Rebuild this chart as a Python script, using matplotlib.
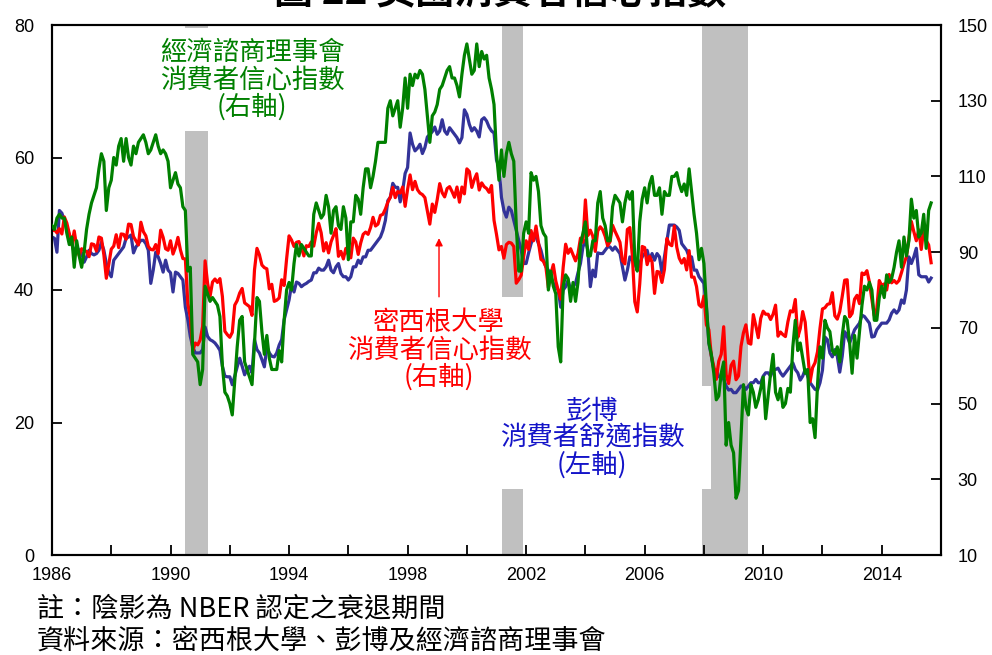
import numpy as np
import matplotlib
matplotlib.use("Agg")
import matplotlib.pyplot as plt
from matplotlib.ticker import FixedLocator, MultipleLocator
from matplotlib.patches import Rectangle

# ---------------- data (monthly, starting Jan 1986) ----------------
START_YEAR = 1986

# Conference Board consumer confidence (right axis)
cb_values = (
    [97, 96, 99, 100, 99, 99, 95, 92, 94, 86, 93, 89] +            # 1986
    [86, 90, 96, 100, 103, 105, 107, 112, 116, 114, 101, 107] +    # 1987
    [109, 115, 113, 118, 120, 114, 120, 115, 113, 118, 116, 119] + # 1988
    [120, 121, 119, 116, 117, 119, 121, 118, 116, 117, 116, 114] + # 1989
    [107, 109, 111, 108, 107, 102, 101, 85, 86, 63, 62, 61] +      # 1990
    [55, 59, 81, 79, 77, 78, 77, 76, 73, 60, 53, 52] +             # 1991
    [50, 47, 56, 65, 72, 73, 61, 59, 57, 55, 66, 78] +             # 1992
    [77, 69, 63, 68, 62, 59, 59, 59, 64, 61, 72, 80] +             # 1993
    [82, 80, 87, 92, 89, 92, 91, 90, 89, 89, 100, 103] +           # 1994
    [101, 99, 100, 105, 102, 95, 101, 102, 97, 96, 102, 99] +      # 1995
    [88, 98, 98, 105, 104, 100, 107, 112, 112, 107, 110, 114] +    # 1996
    [119, 119, 119, 119, 128, 130, 126, 128, 130, 123, 128, 136] + # 1997
    [128, 137, 134, 137, 136, 138, 137, 133, 126, 119, 126, 127] + # 1998
    [129, 133, 134, 136, 138, 139, 136, 136, 134, 131, 137, 142] + # 1999
    [145, 141, 137, 138, 145, 139, 143, 141, 142, 136, 133, 129] + # 2000
    [116, 109, 117, 110, 116, 119, 116, 114, 97, 85, 85, 95] +     # 2001
    [98, 95, 111, 109, 110, 106, 97, 95, 94, 80, 85, 81] +         # 2002
    [79, 65, 61, 81, 84, 83, 77, 82, 77, 82, 92, 95] +             # 2003
    [98, 89, 89, 93, 93, 103, 106, 99, 97, 93, 93, 102] +          # 2004
    [105, 104, 103, 98, 103, 106, 104, 106, 88, 85, 98, 104] +     # 2005
    [107, 103, 108, 110, 105, 105, 107, 100, 106, 105, 105, 110] + # 2006
    [110, 111, 108, 106, 108, 105, 112, 106, 100, 95, 88, 91] +    # 2007
    [87, 76, 66, 63, 58, 51, 52, 58, 61, 39, 45, 39] +             # 2008
    [37, 25, 27, 41, 55, 49, 47, 55, 53, 49, 51, 54] +             # 2009
    [57, 46, 52, 58, 63, 53, 51, 54, 49, 50, 54, 53] +             # 2010
    [65, 72, 64, 66, 62, 58, 59, 45, 46, 41, 55, 65] +             # 2011
    [62, 72, 70, 69, 64, 63, 65, 61, 68, 73, 72, 66] +             # 2012
    [58, 68, 62, 69, 76, 81, 80, 82, 80, 72, 72, 78] +             # 2013
    [81, 78, 84, 82, 83, 86, 90, 93, 86, 94, 89, 93] +             # 2014
    [104, 99, 101, 94, 95, 100, 91, 101, 103]                      # 2015
)

# University of Michigan consumer sentiment (right axis)
umich_values = (
    [95.6, 95.9, 95.1, 96.2, 94.8, 99.3, 97.7, 94.9, 91.9, 95.6, 91.4, 89.1] +
    [90.9, 90.4, 90.2, 88.8, 92.2, 92.0, 90.3, 94.0, 93.7, 89.3, 83.1, 86.8] +
    [90.8, 91.6, 94.6, 91.2, 94.8, 94.7, 93.4, 97.4, 97.3, 94.1, 93.0, 91.9] +
    [97.9, 95.4, 94.3, 91.5, 90.7, 90.6, 92.0, 89.6, 95.8, 93.9, 90.9, 90.5] +
    [93.0, 89.5, 91.3, 93.9, 90.6, 88.3, 88.2, 76.4, 72.8, 63.9, 66.0, 65.5] +
    [66.8, 70.4, 87.7, 81.8, 78.3, 82.1, 82.9, 82.0, 83.0, 78.3, 69.1, 68.2] +
    [67.5, 68.8, 76.0, 77.2, 79.2, 80.4, 76.6, 76.1, 75.6, 73.3, 85.3, 91.0] +
    [89.3, 86.6, 85.9, 85.6, 80.3, 81.5, 77.0, 77.3, 77.9, 82.7, 81.2, 88.2] +
    [94.3, 93.2, 91.5, 92.6, 92.8, 91.2, 89.0, 91.7, 91.5, 92.7, 91.6, 95.1] +
    [97.6, 95.1, 90.3, 92.5, 89.8, 92.7, 94.4, 96.2, 88.9, 90.2, 88.2, 91.0] +
    [89.3, 88.5, 93.7, 92.7, 89.4, 92.4, 94.7, 95.3, 94.7, 96.5, 99.2, 96.9] +
    [97.4, 99.7, 100.0, 101.4, 103.2, 104.5, 107.1, 104.4, 106.0, 105.6, 107.2, 102.1] +
    [106.6, 110.4, 106.5, 108.7, 106.5, 105.6, 105.2, 104.4, 100.9, 97.4, 102.7, 100.5] +
    [103.9, 108.1, 105.7, 104.6, 106.8, 107.3, 106.0, 104.5, 107.2, 103.2, 107.2, 105.4] +
    [112.0, 111.3, 107.1, 109.2, 110.7, 106.4, 108.3, 107.3, 106.8, 105.8, 107.6, 98.4] +
    [94.7, 90.6, 91.5, 88.4, 92.0, 92.6, 92.4, 91.5, 81.8, 82.7, 83.9, 88.8] +
    [93.0, 90.7, 95.7, 93.0, 96.9, 92.4, 88.1, 87.6, 86.1, 80.6, 84.2, 86.7] +
    [82.4, 79.9, 77.6, 86.0, 92.1, 89.7, 90.9, 89.3, 87.7, 89.6, 93.7, 92.6] +
    [103.8, 94.4, 95.8, 94.2, 90.2, 95.6, 96.7, 95.9, 94.2, 91.7, 92.8, 97.1] +
    [95.5, 94.1, 92.6, 87.7, 86.9, 96.0, 96.5, 89.1, 76.9, 74.2, 81.6, 91.5] +
    [91.2, 86.7, 88.9, 87.4, 79.1, 84.9, 84.7, 82.0, 85.4, 93.6, 92.1, 91.7] +
    [96.9, 91.3, 88.4, 87.1, 88.3, 85.3, 90.4, 83.4, 83.4, 80.9, 76.1, 75.5] +
    [78.4, 70.8, 69.5, 62.6, 59.8, 56.4, 61.2, 63.0, 70.3, 57.6, 55.3, 60.1] +
    [61.2, 56.3, 57.3, 65.1, 68.7, 70.8, 66.0, 65.7, 73.5, 70.6, 67.4, 72.5] +
    [74.4, 73.6, 73.6, 72.2, 73.6, 76.0, 67.8, 68.9, 68.2, 67.7, 71.6, 74.5] +
    [74.2, 77.5, 67.5, 69.8, 74.3, 71.5, 63.7, 55.8, 59.5, 60.8, 63.7, 69.9] +
    [75.0, 75.3, 76.2, 76.4, 79.3, 73.2, 72.3, 74.3, 78.3, 82.6, 82.7, 72.9] +
    [73.8, 77.6, 78.6, 76.4, 84.5, 84.1, 85.1, 82.1, 77.5, 73.2, 75.1, 82.5] +
    [81.2, 81.6, 80.0, 84.1, 81.9, 82.5, 81.8, 82.5, 84.6, 86.9, 88.8, 93.6] +
    [98.1, 95.4, 93.0, 95.9, 90.7, 96.1, 93.1, 91.9, 87.2]
)

# Bloomberg consumer comfort index (left axis)
bbg_values = (
    [48, 47.8, 45.7, 52, 51.6, 50.5, 49.5, 48.3, 47, 45.7, 46.5, 46] +
    [45.6, 44.2, 45, 46, 45.5, 45.3, 45.5, 46, 47.2, 46, 44, 42.6] +
    [42, 44.5, 45, 45.5, 46, 46.5, 47.8, 48, 48.3, 45.6, 46.5, 47] +
    [47.5, 47.5, 47, 46, 41, 43, 45.7, 45, 44, 42.7, 44.5, 43] +
    [42.6, 39.7, 42.7, 42.5, 42, 41.5, 37.4, 35.5, 33, 31.4, 30.5, 30.5] +
    [30.5, 31, 34.4, 33, 32.5, 32.3, 32, 31.5, 30.9, 28.5, 27, 26.9] +
    [26.9, 25.7, 27, 28.4, 29.7, 28.5, 27.2, 28, 28.5, 27.5, 32.5, 31] +
    [30.5, 29.5, 28.4, 31.4, 30.5, 30, 29.9, 30.5, 31.7, 32.5, 35.5, 37] +
    [38.5, 40.8, 39.7, 41.2, 41, 40.5, 40.8, 41, 41.3, 41.5, 42.6, 42.6] +
    [43.3, 43, 43, 43.5, 44.5, 43, 42.6, 43.5, 44, 42.5, 42, 42] +
    [41.5, 42, 43.5, 43.5, 44.5, 44, 45, 45, 46, 46, 46.5, 47] +
    [47.5, 48, 49, 50.5, 53.5, 54, 56.1, 55.5, 55.5, 53.3, 55, 57.6] +
    [58.5, 63.7, 62, 61, 61.4, 62, 60.6, 61.5, 63.1, 63.5, 63.9, 64.6] +
    [63.5, 64, 65.7, 64, 63.5, 64.5, 64, 63.5, 63, 62.2, 63, 67.2] +
    [66.5, 65, 64, 64.5, 64, 63.1, 65.7, 66, 65.5, 64.6, 64, 63.7] +
    [59.6, 58.6, 54, 52, 51, 52.5, 52, 50.5, 49, 47.5, 46, 44] +
    [44, 45.6, 47, 48, 48, 47, 46, 44.5, 43.5, 43, 42, 41] +
    [40.5, 40, 37.4, 40, 40.5, 41.5, 40, 40.5, 41, 42.6, 44, 46.5] +
    [47.5, 46, 40.5, 43, 42, 45.6, 45.5, 45.5, 46, 46.5, 46.5, 46] +
    [46.5, 46, 45.5, 43.5, 41.5, 43, 45, 44.5, 44, 43, 44, 45] +
    [45.5, 46, 44.5, 45.5, 44.5, 45.5, 45, 42.6, 45, 47.5, 49.8, 49.8] +
    [49.8, 49.5, 49, 47, 46.5, 46, 45, 45, 43, 43, 42, 41.5] +
    [41, 37.4, 32, 30, 28, 27.9, 26.9, 27, 26.5, 25.5, 24.9, 25] +
    [24.5, 24.5, 25, 25.5, 25.5, 25, 25.5, 26, 26, 26.5, 26, 26] +
    [27, 27.5, 27.5, 27, 28, 28, 28.2, 27.5, 27, 27.5, 28, 28.5] +
    [29, 28, 27.5, 26.4, 27, 28, 27, 26, 25.5, 25, 24.9, 26] +
    [27.9, 32.9, 32.5, 30.5, 29.9, 31, 30, 27.6, 30, 33.7, 33, 32] +
    [33, 34, 34.5, 35, 36.2, 36, 35.5, 35, 32.9, 33, 34, 34.5] +
    [35, 35, 35, 35.5, 36.5, 37, 36.5, 37, 38.5, 38, 40, 45] +
    [44, 45, 46.3, 42.3, 42, 42, 42, 41.2, 41.8]
)

recessions = [(1990.5, 1991.25), (2001.17, 2001.9), (2007.92, 2009.5)]
x_tick_years = [1986, 1990, 1994, 1998, 2002, 2006, 2010, 2014]
left_ticks = [0, 20, 40, 60, 80]
right_ticks = [10, 30, 50, 70, 90, 110, 130, 150]

title_text = "圖 22 美國消費者信心指數"
label_cb = "經濟諮商理事會\n消費者信心指數\n(右軸)"
label_um = "密西根大學\n消費者信心指數\n(右軸)"
label_bb = "彭博\n消費者舒適指數\n(左軸)"
note1 = "註：陰影為 NBER 認定之衰退期間"
note2 = "資料來源：密西根大學、彭博及經濟諮商理事會"

# ---------------- style ----------------
plt.rcParams["font.family"] = ["Liberation Sans Narrow", "Liberation Sans", "DejaVu Sans"]
CJK = ["Noto Sans CJK TC", "DejaVu Sans"]
GREEN = "#008000"
RED = "#ff0000"
BLUE = "#333399"
BLUE_TXT = "#1414c8"
SHADE = "#c0c0c0"
W, H = 992, 655


def months(vals):
    return START_YEAR + np.arange(len(vals)) / 12.0


fig = plt.figure(figsize=(W / 100, H / 100), dpi=100)
ax = fig.add_axes([52 / W, 100 / H, 889 / W, 530 / H])
ax2 = ax.twinx()

ax.set_xlim(1986, 2016)
ax.set_ylim(0, 80)
ax2.set_ylim(10, 150)

for a, b in recessions:
    ax.axvspan(a, b, color=SHADE, lw=0, zorder=0)

# white label backgrounds that interrupt the shading
for (x0, y0, x1, y1) in [(140, 28, 365, 131), (340, 297, 530, 392), (495, 386, 711, 489)]:
    ax.add_patch(Rectangle(((x0 - 52) / 889, (555 - y1) / 530), (x1 - x0) / 889, (y1 - y0) / 530,
                           transform=ax.transAxes, facecolor="white", edgecolor="none", zorder=0.5))

ax.plot(months(bbg_values), bbg_values, color=BLUE, lw=2.3, zorder=2, solid_joinstyle="round")
ax2.plot(months(umich_values), umich_values, color=RED, lw=2.3, zorder=2, solid_joinstyle="round")
ax2.plot(months(cb_values), cb_values, color=GREEN, lw=2.3, zorder=3, solid_joinstyle="round")

# axes / ticks
for s in ax.spines.values():
    s.set_linewidth(1.5)
for s in ax2.spines.values():
    s.set_linewidth(1.5)

ax.xaxis.set_major_locator(FixedLocator(x_tick_years))
ax.xaxis.set_minor_locator(MultipleLocator(2))
ax.set_xticklabels([str(y) for y in x_tick_years])
ax.yaxis.set_major_locator(FixedLocator(left_ticks))
ax2.yaxis.set_major_locator(FixedLocator(right_ticks))

ax.tick_params(axis="x", which="both", direction="in", length=7, width=1.3, labelsize=13, pad=9,
               top=False)
ax.tick_params(axis="y", which="both", direction="in", length=7, width=1.3, labelsize=13, pad=13,
               right=False)
ax2.tick_params(axis="y", which="both", direction="in", length=7, width=1.3, labelsize=13, pad=12)

# arrow pointing at Michigan series
ARROW_X, ARROW_TIP, ARROW_TAIL = 1999.06, 93.7, 78.2
ax2.annotate("", xy=(ARROW_X, ARROW_TIP), xytext=(ARROW_X, ARROW_TAIL),
             arrowprops=dict(arrowstyle="-|>", color=RED, lw=1.0, mutation_scale=11,
                             shrinkA=0, shrinkB=0), zorder=4)

# labels
fig.text(252 / W, 1 - 80 / H, label_cb, color=GREEN, ha="center", va="center",
         fontsize=19, family=CJK, linespacing=1.0, multialignment="center")
fig.text(439 / W, 1 - 350 / H, label_um, color=RED, ha="center", va="center",
         fontsize=19, family=CJK, linespacing=1.0, multialignment="center")
fig.text(592 / W, 1 - 438 / H, label_bb, color=BLUE_TXT, ha="center", va="center",
         fontsize=19, family=CJK, linespacing=1.0, multialignment="center")

# title (cut off at top, as in the reference) and notes
fig.text(500 / W, 1 - 3.5 / H, title_text, ha="center", va="baseline", fontsize=28,
         fontweight="bold", family=CJK, color="black")
fig.text(37 / W, 1 - 609 / H, note1, ha="left", va="center", fontsize=19.5, family=CJK, color="black")
fig.text(37 / W, 1 - 641 / H, note2, ha="left", va="center", fontsize=19.5, family=CJK, color="black")

fig.savefig("out.png", dpi=100)
